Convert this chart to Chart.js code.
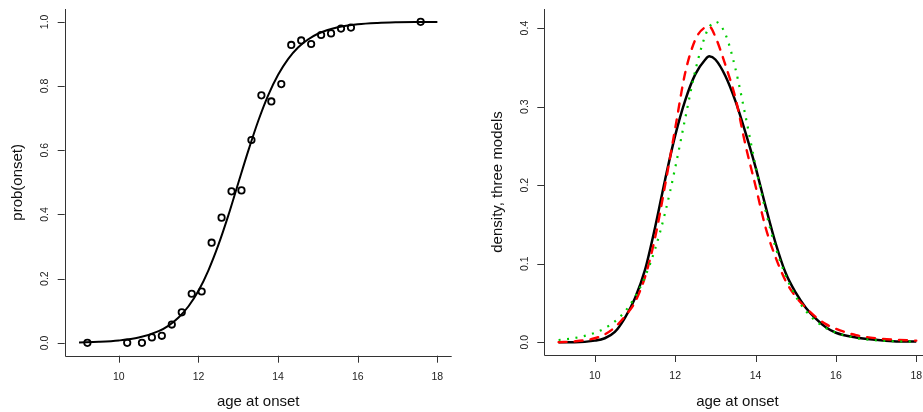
<!DOCTYPE html>
<html>
<head>
<meta charset="utf-8">
<script src="https://cdn.jsdelivr.net/npm/chart.js@4.4.1/dist/chart.umd.min.js"></script>
<style>
  html, body { margin: 0; padding: 0; background: #fff; overflow: hidden; width: 923px; height: 412px; }
  .panel { position: absolute; top: 0; }
</style>
</head>
<body>
<div class="panel" style="left:0"><canvas id="fitChart" width="460" height="412"></canvas></div>
<div class="panel" style="left:460px"><canvas id="densChart" width="480" height="412"></canvas></div>
<script>
// observed proportion with onset, by age group
const onsetAge = [9.21, 10.21, 10.58, 10.83, 11.08, 11.33, 11.58, 11.83, 12.08, 12.33, 12.58, 12.83, 13.08,
                  13.33, 13.58, 13.83, 14.08, 14.33, 14.58, 14.83, 15.08, 15.33, 15.58, 15.83, 17.58];
const onsetProp = [0, 0, 0, 0.017, 0.022, 0.057, 0.095, 0.153, 0.160, 0.312, 0.390, 0.472, 0.475,
                   0.632, 0.771, 0.752, 0.806, 0.928, 0.942, 0.931, 0.959, 0.964, 0.979, 0.982, 1.0];

// fitted curve
const fitAge = [9, 9.5, 10, 10.5, 11, 11.25, 11.5, 11.75, 12, 12.25, 12.5, 12.75, 13, 13.25,
                13.5, 13.75, 14, 14.25, 14.5, 14.75, 15, 15.5, 16, 16.5, 17, 17.5, 18];
const fitProb = [0.0015, 0.0033, 0.0074, 0.0165, 0.0365, 0.0539, 0.0788, 0.114, 0.162, 0.226, 0.305, 0.397, 0.498, 0.598,
                 0.691, 0.771, 0.835, 0.884, 0.920, 0.945, 0.963, 0.983, 0.9925, 0.9967, 0.9985, 0.9993, 0.9997];

// densities of the three models on a common age grid
const densAge = [9.1, 9.5, 10, 10.25, 10.5, 10.75, 11, 11.25, 11.5, 11.75, 12, 12.25, 12.5, 12.75, 12.85,
                 13, 13.25, 13.5, 13.75, 14, 14.25, 14.5, 14.75, 15, 15.25, 15.5, 15.75, 16, 16.5, 17, 17.5, 18];
const densSolid = [0.000, 0.000, 0.002, 0.005, 0.013, 0.031, 0.056, 0.092, 0.146, 0.207, 0.263, 0.308, 0.341, 0.360, 0.364,
                   0.360, 0.339, 0.307, 0.267, 0.223, 0.173, 0.126, 0.088, 0.063, 0.044, 0.030, 0.019, 0.012, 0.006, 0.003, 0.001, 0.001];
const densDashed = [0.000, 0.001, 0.005, 0.010, 0.019, 0.033, 0.051, 0.083, 0.133, 0.200, 0.272, 0.343, 0.385, 0.401, 0.402,
                    0.389, 0.353, 0.311, 0.251, 0.199, 0.146, 0.108, 0.078, 0.058, 0.044, 0.032, 0.023, 0.017, 0.009, 0.005, 0.003, 0.002];
const densDotted = [0.0028, 0.0053, 0.0119, 0.0178, 0.0264, 0.0391, 0.0574, 0.0832, 0.1185, 0.1648, 0.2218, 0.2850, 0.3456, 0.3907, 0.4015,
                    0.4080, 0.3923, 0.3483, 0.2881, 0.2247, 0.1675, 0.1205, 0.0847, 0.0585, 0.0398, 0.0270, 0.0181, 0.0122, 0.0054, 0.0024, 0.0011, 0.0005];

const ageTicks = [10, 12, 14, 16, 18];
const probTicks = [0, 0.2, 0.4, 0.6, 0.8, 1.0];
const densTicks = [0, 0.1, 0.2, 0.3, 0.4];

const points = (xs, ys) => xs.map((x, i) => ({ x: x, y: ys[i] }));

const FONT = '"Liberation Sans", Arial, Helvetica, sans-serif';

// base-graphics style axes: L-shaped frame, outward ticks, rotated y labels
const rAxes = {
  id: 'rAxes',
  afterDraw(chart, args, opts) {
    const { ctx, chartArea: a } = chart;
    const x = chart.scales.x, y = chart.scales.y;
    ctx.save();
    ctx.strokeStyle = '#333';
    ctx.lineWidth = 1;
    ctx.beginPath();
    ctx.moveTo(Math.round(a.left) + 0.5, a.top);
    ctx.lineTo(Math.round(a.left) + 0.5, Math.round(a.bottom) + 0.5);
    ctx.lineTo(a.right, Math.round(a.bottom) + 0.5);
    opts.xTicks.forEach(v => {
      const px = Math.round(x.getPixelForValue(v)) + 0.5;
      ctx.moveTo(px, a.bottom);
      ctx.lineTo(px, a.bottom + 7);
    });
    opts.yTicks.forEach(v => {
      const py = Math.round(y.getPixelForValue(v)) + 0.5;
      ctx.moveTo(a.left, py);
      ctx.lineTo(a.left - 7, py);
    });
    ctx.stroke();

    ctx.fillStyle = '#222';
    ctx.textAlign = 'center';
    ctx.textBaseline = 'middle';
    ctx.font = '10.5px ' + FONT;
    opts.xTicks.forEach(v => ctx.fillText(String(v), x.getPixelForValue(v), a.bottom + 21));
    opts.yTicks.forEach(v => {
      ctx.save();
      ctx.translate(a.left - 19.5, y.getPixelForValue(v));
      ctx.rotate(-Math.PI / 2);
      ctx.fillText(v.toFixed(1), 0, 0);
      ctx.restore();
    });

    ctx.fillStyle = '#111';
    ctx.font = '15px ' + FONT;
    ctx.fillText(opts.xTitle, (a.left + a.right) / 2, a.bottom + 46.5);
    ctx.save();
    ctx.translate(a.left - 46.5, (a.top + a.bottom) / 2);
    ctx.rotate(-Math.PI / 2);
    ctx.fillText(opts.yTitle, 0, 0);
    ctx.restore();
    ctx.restore();
  }
};

const baseOptions = (padding, xr, yr, axes) => ({
  responsive: false,
  animation: false,
  devicePixelRatio: 1,
  layout: { padding: padding },
  scales: {
    x: { type: 'linear', min: xr[0], max: xr[1], display: false },
    y: { type: 'linear', min: yr[0], max: yr[1], display: false }
  },
  plugins: { legend: { display: false }, tooltip: { enabled: false }, rAxes: axes }
});

new Chart(document.getElementById('fitChart'), {
  type: 'line',
  data: {
    datasets: [
      {
        data: points(onsetAge, onsetProp),
        showLine: false,
        pointRadius: 3.2,
        pointBorderWidth: 1.8,
        pointBorderColor: '#000',
        pointBackgroundColor: 'rgba(0,0,0,0)',
        order: 1
      },
      {
        data: points(fitAge, fitProb),
        borderColor: '#000',
        borderWidth: 2,
        pointRadius: 0,
        cubicInterpolationMode: 'monotone',
        order: 2
      }
    ]
  },
  options: baseOptions({ left: 64.7, right: 8.3, top: 9, bottom: 56.3 }, [8.64, 18.36], [-0.04, 1.04],
    { xTicks: ageTicks, yTicks: probTicks, xTitle: 'age at onset', yTitle: 'prob(onset)' }),
  plugins: [rAxes]
});

new Chart(document.getElementById('densChart'), {
  type: 'line',
  data: {
    datasets: [
      {
        data: points(densAge, densSolid),
        borderColor: '#000',
        borderWidth: 2.5,
        pointRadius: 0,
        cubicInterpolationMode: 'monotone',
        order: 3
      },
      {
        data: points(densAge, densDashed),
        borderColor: '#ff0000',
        borderWidth: 2.4,
        borderDash: [8, 8],
        borderCapStyle: 'round',
        pointRadius: 0,
        cubicInterpolationMode: 'monotone',
        order: 2
      },
      {
        data: points(densAge, densDotted),
        borderColor: '#00cc00',
        borderWidth: 2.2,
        borderDash: [2, 6.5],
        pointRadius: 0,
        cubicInterpolationMode: 'monotone',
        order: 1
      }
    ]
  },
  options: baseOptions({ left: 84.3, right: 9.4, top: 9, bottom: 57 }, [8.744, 18.356], [-0.0163, 0.4243],
    { xTicks: ageTicks, yTicks: densTicks, xTitle: 'age at onset', yTitle: 'density, three models' }),
  plugins: [rAxes]
});
</script>
</body>
</html>
